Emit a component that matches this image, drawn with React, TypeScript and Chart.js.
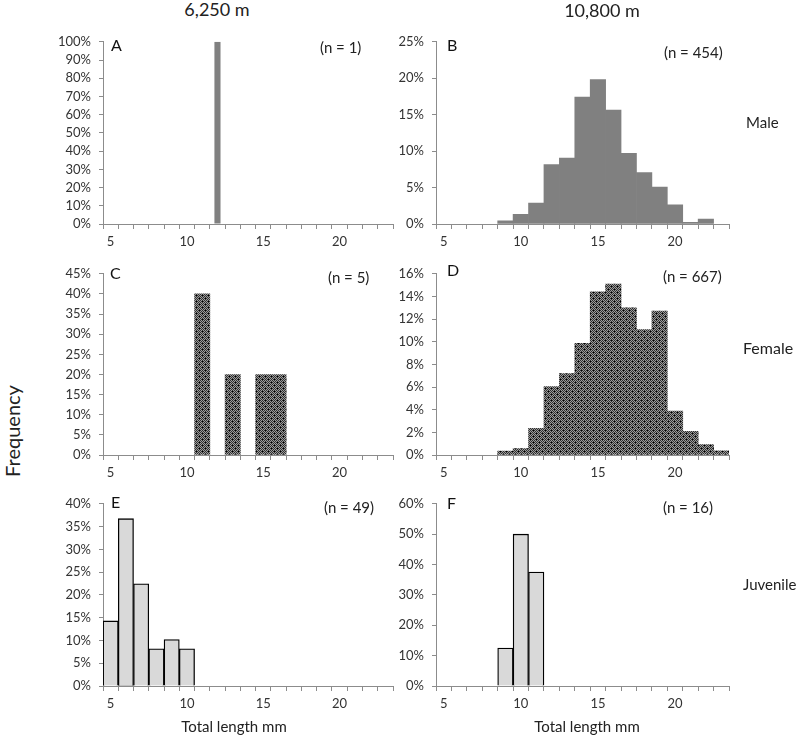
import React, { useEffect, useRef } from 'react';
import { Chart, registerables } from 'chart.js';

Chart.register(...registerables);

// ---------- data ----------
const LENGTHS = [5, 6, 7, 8, 9, 10, 11, 12, 13, 14, 15, 16, 17, 18, 19, 20, 21, 22, 23];
const X_TICK_LABELS = ['5', '10', '15', '20'];

// percentages per total-length class (mm)
const MALE_6250 = [null, null, null, null, null, null, null, 100, null, null, null, null, null, null, null, null, null, null, null];
const MALE_10800 = [null, null, null, null, 0.44, 1.32, 2.86, 8.15, 9.03, 17.4, 19.82, 15.64, 9.69, 7.05, 5.07, 2.64, 0.22, 0.66, null];
const FEMALE_6250 = [null, null, null, null, null, null, 40, null, 20, null, 20, 20, null, null, null, null, null, null, null];
const FEMALE_10800 = [null, null, null, null, 0.34, 0.57, 2.35, 6.05, 7.2, 9.86, 14.4, 15.1, 13.0, 11.07, 12.7, 3.87, 2.09, 0.92, 0.37];
const JUVENILE_6250 = [14.29, 36.73, 22.45, 8.16, 10.2, 8.16, null, null, null, null, null, null, null, null, null, null, null, null, null];
const JUVENILE_10800 = [null, null, null, null, 12.5, 50, 37.5, null, null, null, null, null, null, null, null, null, null, null, null];

const Y_MAX = [100, 25, 45, 16, 40, 60];
const Y_STEP = [10, 5, 5, 2, 5, 10];
const PANEL_LETTERS = ['A', 'B', 'C', 'D', 'E', 'F'];
const SAMPLE_SIZES = ['(n = 1)', '(n = 454)', '(n = 5)', '(n = 667)', '(n = 49)', '(n = 16)'];
const COLUMN_TITLES = ['6,250 m', '10,800 m'];
const ROW_TITLES = ['Male', 'Female', 'Juvenile'];
const Y_TITLE = 'Frequency';
const X_TITLE = 'Total length mm';

// ---------- layout / style ----------
const FONT = 'Lato, "Open Sans", "DejaVu Sans", sans-serif';
const AXIS = '#8c8c8c';
const TICK_TEXT = '#333333';

const COLS = [
  { boxLeft: 40, boxWidth: 360, areaLeft: 103, areaRight: 393 },
  { boxLeft: 380, boxWidth: 419, areaLeft: 436, areaRight: 729 },
];
const ROWS = [
  { boxTop: 26, areaTop: 38, areaBottom: 224 },
  { boxTop: 258, areaTop: 270, areaBottom: 455 },
  { boxTop: 488, areaTop: 500, areaBottom: 686 },
];
const X_AXIS_H = 34;

const LETTER_POS = [
  [111, 45], [447, 45], [110, 273], [447, 270], [111, 502], [447, 503],
];
const N_POS = [
  [320, 47], [664, 52], [328, 277], [663, 276], [324, 507], [663, 507],
];

function makeStipple(): CanvasPattern | string {
  const c = document.createElement('canvas');
  c.width = 6;
  c.height = 6;
  const g = c.getContext('2d');
  if (!g) return '#555';
  for (let y = 0; y < 6; y++) {
    for (let x = 0; x < 6; x++) {
      g.fillStyle = (x + y) % 2 === 0 ? '#2e2e2e' : '#9c9c9c';
      g.fillRect(x, y, 1, 1);
    }
  }
  g.fillStyle = '#000';
  g.fillRect(0, 1, 1, 1);
  g.fillRect(3, 4, 1, 1);
  return g.createPattern(c, 'repeat') || '#555';
}

type PanelProps = {
  values: (number | null)[];
  idx: number;
  kind: 'solid' | 'stipple' | 'outline';
  barPct: number;
};

function Panel({ values, idx, kind, barPct }: PanelProps) {
  const ref = useRef<HTMLCanvasElement>(null);
  const col = COLS[idx % 2];
  const row = ROWS[Math.floor(idx / 2)];
  const boxH = row.areaBottom + X_AXIS_H - row.boxTop;

  useEffect(() => {
    if (!ref.current) return;
    const fill = kind === 'solid' ? '#808080' : kind === 'stipple' ? makeStipple() : '#d9d9d9';
    const chart = new Chart(ref.current, {
      type: 'bar',
      data: {
        labels: LENGTHS.map(String),
        datasets: [
          {
            data: values as any,
            backgroundColor: fill as any,
            borderColor: '#000',
            borderWidth: kind === 'outline' ? 1.3 : 0,
            borderSkipped: 'start',
            barPercentage: barPct,
            categoryPercentage: 1,
          },
        ],
      },
      options: {
        responsive: false,
        animation: false,
        events: [],
        layout: {
          padding: {
            left: 0,
            top: row.areaTop - row.boxTop,
            right: col.boxLeft + col.boxWidth - col.areaRight,
            bottom: 0,
          },
        },
        plugins: { legend: { display: false }, tooltip: { enabled: false } },
        scales: {
          x: {
            type: 'category',
            offset: true,
            grid: { offset: true, drawOnChartArea: false, drawTicks: true, tickLength: 5, color: AXIS },
            border: { color: AXIS, width: 1 },
            ticks: {
              autoSkip: false,
              maxRotation: 0,
              minRotation: 0,
              padding: 5,
              color: TICK_TEXT,
              font: { family: FONT, size: 13 },
              callback: (_v: any, i: number) => {
                const l = String(LENGTHS[i]);
                return X_TICK_LABELS.includes(l) ? l : '';
              },
            },
            afterFit: (s: any) => {
              s.height = X_AXIS_H;
            },
          },
          y: {
            min: 0,
            max: Y_MAX[idx],
            grid: { drawOnChartArea: false, drawTicks: true, tickLength: 4, color: AXIS },
            border: { color: AXIS, width: 1 },
            ticks: {
              stepSize: Y_STEP[idx],
              autoSkip: false,
              padding: 8,
              color: TICK_TEXT,
              font: { family: FONT, size: 13 },
              callback: (v: any) => `${v}%`,
            },
            afterFit: (s: any) => {
              s.width = col.areaLeft - col.boxLeft;
            },
          },
        },
      },
    });
    return () => chart.destroy();
  }, []);

  return (
    <canvas
      ref={ref}
      width={col.boxWidth}
      height={boxH}
      style={{ position: 'absolute', left: col.boxLeft, top: row.boxTop, width: col.boxWidth, height: boxH }}
    />
  );
}

const textBase: React.CSSProperties = {
  position: 'absolute',
  fontFamily: FONT,
  whiteSpace: 'nowrap',
  lineHeight: 1,
};

export default function App() {
  const series = [MALE_6250, MALE_10800, FEMALE_6250, FEMALE_10800, JUVENILE_6250, JUVENILE_10800];
  const kinds: ('solid' | 'stipple' | 'outline')[] = ['solid', 'solid', 'stipple', 'stipple', 'outline', 'outline'];
  return (
    <div style={{ position: 'absolute', left: 0, top: 0, width: 799, height: 735, background: '#fff', overflow: 'hidden' }}>
      {series.map((s, i) => (
        <Panel key={i} values={s} idx={i} kind={kinds[i]} barPct={i === 0 ? 0.4 : 1} />
      ))}
      {PANEL_LETTERS.map((l, i) => (
        <div key={'l' + i} style={{ ...textBase, left: LETTER_POS[i][0], top: LETTER_POS[i][1], transform: 'translateY(-50%)', fontSize: 16, color: '#111' }}>
          {l}
        </div>
      ))}
      {SAMPLE_SIZES.map((n, i) => (
        <div key={'n' + i} style={{ ...textBase, left: N_POS[i][0], top: N_POS[i][1], transform: 'translateY(-50%)', fontSize: 15, color: '#222' }}>
          {n}
        </div>
      ))}
      <div style={{ ...textBase, left: 217, top: 9, transform: 'translate(-50%,-50%)', fontSize: 18, color: '#222' }}>{COLUMN_TITLES[0]}</div>
      <div style={{ ...textBase, left: 602, top: 10, transform: 'translate(-50%,-50%)', fontSize: 18, color: '#222' }}>{COLUMN_TITLES[1]}</div>
      <div style={{ ...textBase, left: 746, top: 122, transform: 'translateY(-50%)', fontSize: 15, color: '#222' }}>{ROW_TITLES[0]}</div>
      <div style={{ ...textBase, left: 743, top: 348, transform: 'translateY(-50%)', fontSize: 16, color: '#222' }}>{ROW_TITLES[1]}</div>
      <div style={{ ...textBase, left: 743, top: 584, transform: 'translateY(-50%)', fontSize: 15, color: '#222' }}>{ROW_TITLES[2]}</div>
      <div style={{ ...textBase, left: 12, top: 431, transform: 'translate(-50%,-50%) rotate(-90deg)', fontSize: 20, color: '#222' }}>{Y_TITLE}</div>
      <div style={{ ...textBase, left: 234, top: 726, transform: 'translate(-50%,-50%)', fontSize: 15, color: '#222' }}>{X_TITLE}</div>
      <div style={{ ...textBase, left: 587, top: 726, transform: 'translate(-50%,-50%)', fontSize: 15, color: '#222' }}>{X_TITLE}</div>
    </div>
  );
}
